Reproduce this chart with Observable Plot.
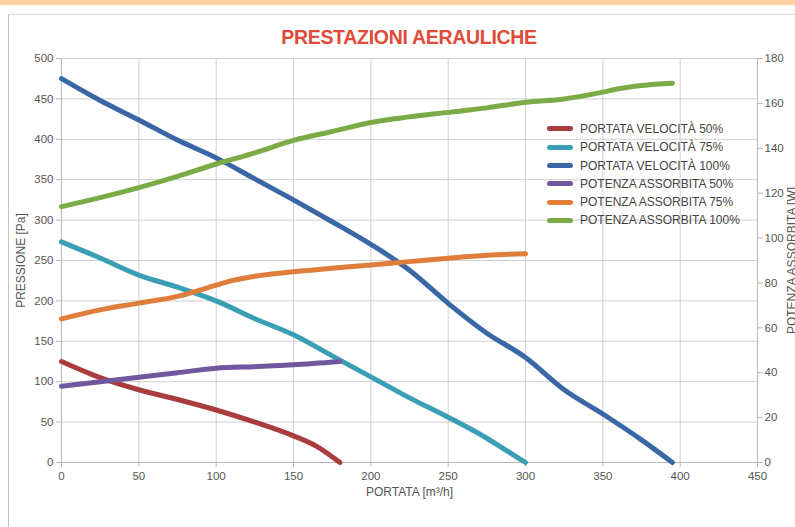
<!DOCTYPE html>
<html><head><meta charset="utf-8">
<script src="https://cdn.jsdelivr.net/npm/d3@7"></script>
<script src="https://cdn.jsdelivr.net/npm/@observablehq/plot@0.6"></script>
<style>
html,body{margin:0;padding:0;background:#fff;width:795px;height:527px;overflow:hidden;font-family:"Liberation Sans",Arial,sans-serif;}
#band{position:absolute;left:0;top:0;width:795px;height:5px;background:#fbd3a2;}
#box{position:absolute;left:8px;top:14px;width:800px;height:520px;border-top:1px solid #d6d6d6;border-left:1px solid #c4c4c4;}
#title{position:absolute;left:0;width:818px;top:26px;text-align:center;font-weight:bold;font-size:19.5px;color:#e04a37;letter-spacing:-0.3px;}
#chart{position:absolute;left:0;top:45px;}
#legend{position:absolute;left:547px;top:121px;font-size:12px;color:#444;}
#legend div{height:18.3px;line-height:16px;white-space:nowrap;}
#legend span.sw{display:inline-block;width:26px;height:5px;border-radius:3px;vertical-align:middle;margin-right:7px;position:relative;top:-1px;}
</style></head>
<body>
<div id="band"></div>
<div id="box"></div>
<div id="title">PRESTAZIONI AERAULICHE</div>
<div id="chart"></div>
<div id="legend"></div>
<script>
// Data (x = PORTATA m³/h)
const portata50 = [[0,125],[25,105],[50,90],[75,78],[100,65],[125,50],[150,33],[165,20],[180,0]];
const portata75 = [[0,273],[25,253],[50,232],[75,217],[100,200],[125,178],[150,158],[175,132],[200,106],[225,80],[250,56],[275,30],[285,18],[300,0]];
const portata100 = [[0,475],[25,448],[50,424],[75,399],[100,377],[125,351],[150,325],[175,298],[200,270],[225,238],[250,197],[275,160],[300,130],[325,90],[350,60],[375,28],[395,0]];
const potenza50 = [[0,34],[25,36],[50,38],[75,40],[100,42],[125,42.7],[150,43.5],[180,45]];
const potenza75 = [[0,64],[25,68],[50,71],[75,74],[100,79],[110,81],[125,83],[150,85],[175,86.5],[200,88],[225,89.5],[250,91],[275,92.3],[300,93]];
const potenza100 = [[0,114],[25,118],[50,122.5],[75,127.5],[100,133],[125,138],[150,143.5],[175,147.5],[200,151.5],[225,154],[250,156],[275,158],[300,160.5],[325,162],[350,165],[360,166.5],[375,168],[395,169]];

const seriesNames = ["PORTATA VELOCITÀ 50%","PORTATA VELOCITÀ 75%","PORTATA VELOCITÀ 100%","POTENZA ASSORBITA 50%","POTENZA ASSORBITA 75%","POTENZA ASSORBITA 100%"];
const seriesColors = ["#a93c3c","#3a9fb4","#3a68a6","#7157a0","#e07d3a","#7aab47"];
const xTicks = [0,50,100,150,200,250,300,350,400,450];
const leftTicks = [0,50,100,150,200,250,300,350,400,450,500];
const rightTicks = [0,20,40,60,80,100,120,140,160,180];

const leftMax = 500, rightMax = 180;
const k = leftMax / rightMax; // right-axis values mapped onto the left scale

const rows = [];
[portata50, portata75, portata100].forEach((s,i) => s.forEach(([x,y]) => rows.push({x, y, s: seriesNames[i]})));
[potenza50, potenza75, potenza100].forEach((s,i) => s.forEach(([x,w]) => rows.push({x, y: w * k, s: seriesNames[i+3]})));

const font = "Liberation Sans, Arial, sans-serif";
const chart = Plot.plot({
  width: 795, height: 470,
  marginTop: 13, marginBottom: 53, marginLeft: 61, marginRight: 38,
  style: {fontFamily: font, fontSize: "11.5px", color: "#555", background: "transparent"},
  x: {domain: [0, 450]},
  y: {domain: [0, leftMax]},
  color: {domain: seriesNames, range: seriesColors},
  marks: [
    Plot.gridX(xTicks, {stroke: "#cfcfcf", strokeOpacity: 1}),
    Plot.gridY(leftTicks, {stroke: "#cfcfcf", strokeOpacity: 1}),
    Plot.axisX({ticks: xTicks, tickSize: 5, tickPadding: 4, stroke: "#b8b8b8", label: null}),
    Plot.axisY({ticks: leftTicks, tickSize: 5, tickPadding: 3, stroke: "#b8b8b8", label: null}),
    Plot.axisY({anchor: "right", ticks: rightTicks.map(v => v * k), tickFormat: v => Math.round(v / k), tickSize: 5, tickPadding: 2, stroke: "#b8b8b8", label: null}),
    Plot.ruleX([0], {stroke: "#b8b8b8"}),
    Plot.ruleX([450], {stroke: "#b8b8b8"}),
    Plot.ruleY([0], {stroke: "#b8b8b8"}),
    Plot.line(rows, {x: "x", y: "y", z: "s", stroke: "s", strokeWidth: 5, curve: "monotone-x", strokeLinecap: "round"}),
    Plot.text(["PORTATA [m³/h]"], {frameAnchor: "bottom", dy: 33, fontSize: 12, fill: "#555"}),
    Plot.text(["PRESSIONE [Pa]"], {frameAnchor: "left", dx: -40, rotate: -90, textAnchor: "middle", fontSize: 12, fill: "#555"}),
    Plot.text(["POTENZA ASSORBITA [W]"], {frameAnchor: "right", dx: 35, rotate: -90, textAnchor: "middle", fontSize: 12, fill: "#555"})
  ]
});
document.getElementById("chart").appendChild(chart);

const legend = document.getElementById("legend");
seriesNames.forEach((n,i) => {
  const d = document.createElement("div");
  d.innerHTML = `<span class="sw" style="background:${seriesColors[i]}"></span>${n}`;
  legend.appendChild(d);
});
</script>
</body></html>
